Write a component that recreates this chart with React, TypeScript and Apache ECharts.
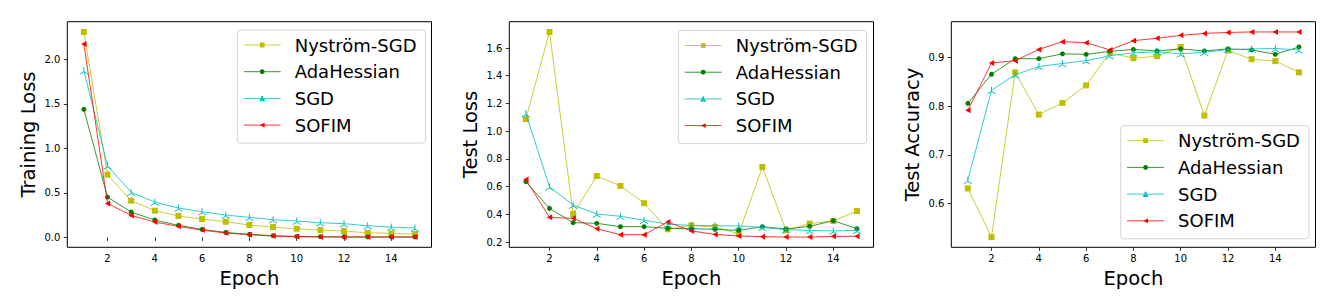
import React, { useEffect, useRef } from "react";
import * as echarts from "echarts";

const epochs = [1, 2, 3, 4, 5, 6, 7, 8, 9, 10, 11, 12, 13, 14, 15];
const seriesNames = ["Nyström-SGD", "AdaHessian", "SGD", "SOFIM"];

// Training loss
const trainNystrom = [2.307, 0.704, 0.412, 0.3, 0.24, 0.206, 0.176, 0.139, 0.116, 0.097, 0.082, 0.071, 0.052, 0.045, 0.037];
const trainAda = [1.438, 0.453, 0.285, 0.195, 0.135, 0.09, 0.056, 0.034, 0.019, 0.011, 0.008, 0.007, 0.005, 0.005, 0.005];
const trainSGD = [1.873, 0.805, 0.506, 0.397, 0.33, 0.288, 0.251, 0.225, 0.199, 0.184, 0.165, 0.154, 0.131, 0.116, 0.105];
const trainSOFIM = [2.172, 0.382, 0.247, 0.172, 0.124, 0.082, 0.049, 0.03, 0.015, 0.007, 0.005, 0.004, 0.004, 0.004, 0.004];

// Test loss
const testLossNystrom = [1.087, 1.716, 0.402, 0.677, 0.605, 0.48, 0.292, 0.32, 0.308, 0.26, 0.742, 0.284, 0.333, 0.352, 0.424];
const testLossAda = [0.636, 0.443, 0.34, 0.335, 0.311, 0.311, 0.299, 0.296, 0.292, 0.284, 0.311, 0.294, 0.313, 0.354, 0.296];
const testLossSGD = [1.128, 0.598, 0.467, 0.402, 0.386, 0.357, 0.328, 0.32, 0.318, 0.316, 0.306, 0.289, 0.284, 0.28, 0.284];
const testLossSOFIM = [0.651, 0.378, 0.371, 0.296, 0.253, 0.253, 0.345, 0.28, 0.255, 0.243, 0.239, 0.236, 0.236, 0.241, 0.241];

// Test accuracy
const accNystrom = [0.631, 0.531, 0.87, 0.783, 0.807, 0.843, 0.91, 0.899, 0.903, 0.922, 0.781, 0.915, 0.897, 0.893, 0.87];
const accAda = [0.806, 0.866, 0.898, 0.898, 0.908, 0.907, 0.913, 0.917, 0.914, 0.918, 0.914, 0.918, 0.916, 0.907, 0.922];
const accSGD = [0.648, 0.833, 0.865, 0.882, 0.888, 0.894, 0.904, 0.91, 0.912, 0.908, 0.911, 0.917, 0.918, 0.919, 0.916];
const accSOFIM = [0.792, 0.889, 0.894, 0.917, 0.933, 0.931, 0.916, 0.935, 0.94, 0.946, 0.95, 0.952, 0.953, 0.953, 0.953];

const xTicks = [2, 4, 6, 8, 10, 12, 14];
const yTicks1 = [0, 0.5, 1.0, 1.5, 2.0];
const yTicks2 = [0.2, 0.4, 0.6, 0.8, 1.0, 1.2, 1.4, 1.6];
const yTicks3 = [0.6, 0.7, 0.8, 0.9];

const yLabels = ["Training Loss", "Test Loss", "Test Accuracy"];
const xLabel = "Epoch";

const FONT = "DejaVu Sans";
const colors = ["#bfbf00", "#008000", "#00bfbf", "#ff0000"];
const symbols = [
  "rect",
  "circle",
  "path://M5,5 L5,0 M5,5 L0.67,7.5 M5,5 L9.33,7.5",
  "path://M0,5 L9,0 L9,10 Z",
];
const symbolSizes = [6, 5, 8, 6];

function range(arrs: number[][]) {
  const all = arrs.flat();
  const lo = Math.min(...all);
  const hi = Math.max(...all);
  const m = (hi - lo) * 0.05;
  return [lo - m, hi + m];
}

export default function App() {
  const ref = useRef<HTMLDivElement>(null);
  useEffect(() => {
    if (!ref.current) return;
    const chart = echarts.init(ref.current, undefined, { renderer: "svg" });
    const panels = [
      [trainNystrom, trainAda, trainSGD, trainSOFIM],
      [testLossNystrom, testLossAda, testLossSGD, testLossSOFIM],
      [accNystrom, accAda, accSGD, accSOFIM],
    ];
    const yTicks = [yTicks1, yTicks2, yTicks3];
    const gridLefts = [67.3, 509.3, 951.3];
    const legendPos = [
      [237.3, 30],
      [678.3, 30.5],
      [1120.7, 125.7],
    ];
    const nameGaps = [28.5, 28.5, 28.5];

    const grid = gridLefts.map((l) => ({
      left: l,
      top: 21.7,
      width: 364.2,
      height: 225.6,
      show: true,
      borderColor: "#000",
      borderWidth: 1,
      backgroundColor: "#fff",
    }));

    const xAxis = gridLefts.map((_, i) => ({
      type: "value",
      gridIndex: i,
      min: 0.3,
      max: 15.7,
      name: xLabel,
      nameLocation: "middle",
      nameGap: 18,
      nameTextStyle: { fontFamily: FONT, fontSize: 19.5, color: "#000" },
      axisLine: { show: false },
      splitLine: { show: false },
      axisTick: { show: true, length: 3.5, lineStyle: { color: "#000", width: 0.8 }, customValues: xTicks },
      axisLabel: { fontFamily: FONT, fontSize: 10, color: "#000", margin: 6, customValues: xTicks, formatter: (v: number) => String(v) },
    }));

    const yAxis = panels.map((p, i) => {
      const [lo, hi] = range(p);
      return {
        type: "value",
        gridIndex: i,
        min: lo,
        max: hi,
        name: yLabels[i],
        nameLocation: "middle",
        nameGap: nameGaps[i],
        nameRotate: 90,
        nameTextStyle: { fontFamily: FONT, fontSize: 19.5, color: "#000" },
        axisLine: { show: false },
        splitLine: { show: false },
        axisTick: { show: true, length: 3.5, lineStyle: { color: "#000", width: 0.8 }, customValues: yTicks[i] },
        axisLabel: {
          fontFamily: FONT,
          fontSize: 10,
          color: "#000",
          margin: 7,
          customValues: yTicks[i],
          formatter: (v: number) => v.toFixed(1),
        },
      };
    });

    const series: any[] = [];
    panels.forEach((p, gi) => {
      p.forEach((vals, si) => {
        series.push({
          type: "line",
          name: seriesNames[si],
          xAxisIndex: gi,
          yAxisIndex: gi,
          data: epochs.map((e, k) => [e, vals[k]]),
          symbol: symbols[si],
          symbolSize: symbolSizes[si],
          symbolKeepAspect: true,
          showSymbol: true,
          lineStyle: { color: colors[si], width: 0.8 },
          itemStyle: si === 2
            ? { color: colors[si], borderColor: colors[si], borderWidth: 1 }
            : { color: colors[si], borderWidth: 0 },
          emphasis: { disabled: true },
          z: 2 + si,
        });
      });
    });

    const legend = legendPos.map(([l, t]) => ({
      orient: "vertical",
      left: l,
      top: t,
      data: seriesNames,
      itemWidth: 37,
      itemHeight: 6,
      itemGap: 8.7,
      padding: [6, 9, 9, 6],
      backgroundColor: "rgba(255,255,255,0.85)",
      borderColor: "#d4d4d4",
      borderWidth: 1,
      borderRadius: 3,
      selectedMode: false,
      lineStyle: { width: 0.8 },
      textStyle: { fontFamily: FONT, fontSize: 18, color: "#000", lineHeight: 18, padding: [0, 0, 0, 9] },
    }));

    chart.setOption({
      animation: false,
      backgroundColor: "#fff",
      textStyle: { fontFamily: FONT },
      grid,
      xAxis,
      yAxis,
      legend,
      series,
    });
    return () => chart.dispose();
  }, []);
  return (
    <div
      ref={ref}
      style={{ position: "fixed", left: 0, top: 0, width: 1336, height: 308, background: "#fff" }}
    />
  );
}
